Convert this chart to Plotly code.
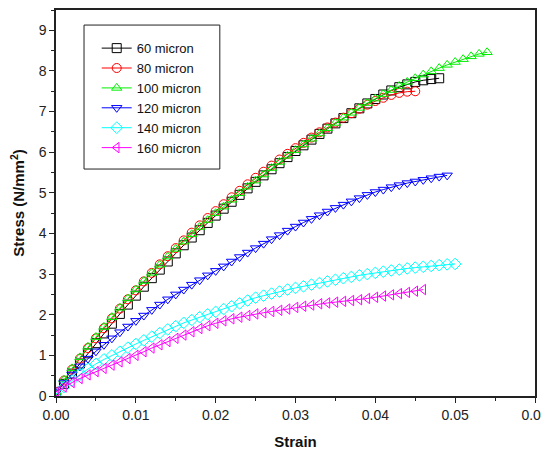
import plotly.graph_objects as go

strain = [0.000, 0.001, 0.002, 0.003, 0.004, 0.005, 0.006, 0.007, 0.008, 0.009,
          0.010, 0.011, 0.012, 0.013, 0.014, 0.015, 0.016, 0.017, 0.018, 0.019,
          0.020, 0.021, 0.022, 0.023, 0.024, 0.025, 0.026, 0.027, 0.028, 0.029,
          0.030, 0.031, 0.032, 0.033, 0.034, 0.035, 0.036, 0.037, 0.038, 0.039,
          0.040, 0.041, 0.042, 0.043, 0.044, 0.045, 0.046, 0.047, 0.048, 0.049,
          0.050, 0.051, 0.052, 0.053, 0.054]

stress_60 = [0.10, 0.30, 0.55, 0.80, 1.05, 1.30, 1.54, 1.78, 2.02, 2.25,
             2.47, 2.69, 2.90, 3.11, 3.31, 3.51, 3.71, 3.90, 4.08, 4.26,
             4.44, 4.61, 4.78, 4.95, 5.11, 5.27, 5.43, 5.58, 5.73, 5.88,
             6.03, 6.17, 6.31, 6.45, 6.58, 6.71, 6.84, 6.96, 7.08, 7.20,
             7.31, 7.42, 7.52, 7.60, 7.67, 7.73, 7.77, 7.80, 7.82]

stress_80 = [0.10, 0.38, 0.65, 0.92, 1.18, 1.42, 1.67, 1.91, 2.15, 2.38,
             2.60, 2.82, 3.03, 3.24, 3.44, 3.64, 3.83, 4.02, 4.20, 4.38,
             4.55, 4.72, 4.89, 5.05, 5.21, 5.37, 5.52, 5.67, 5.82, 5.96,
             6.10, 6.23, 6.36, 6.49, 6.61, 6.73, 6.85, 6.96, 7.07, 7.17,
             7.26, 7.34, 7.41, 7.46, 7.49, 7.50]

stress_100 = [0.10, 0.40, 0.68, 0.95, 1.21, 1.45, 1.70, 1.94, 2.17, 2.40,
              2.62, 2.83, 3.03, 3.23, 3.43, 3.62, 3.80, 3.98, 4.16, 4.33,
              4.50, 4.66, 4.83, 4.99, 5.15, 5.30, 5.45, 5.61, 5.76, 5.91,
              6.05, 6.19, 6.33, 6.46, 6.59, 6.72, 6.85, 6.97, 7.09, 7.21,
              7.32, 7.43, 7.53, 7.63, 7.73, 7.82, 7.91, 7.99, 8.07, 8.15,
              8.22, 8.29, 8.36, 8.42, 8.46]

stress_120 = [0.10, 0.32, 0.53, 0.73, 0.92, 1.10, 1.26, 1.42, 1.57, 1.71,
              1.85, 1.98, 2.12, 2.25, 2.38, 2.50, 2.62, 2.74, 2.85, 2.97,
              3.08, 3.19, 3.31, 3.42, 3.53, 3.64, 3.75, 3.86, 3.96, 4.07,
              4.17, 4.27, 4.36, 4.45, 4.54, 4.63, 4.71, 4.79, 4.87, 4.95,
              5.02, 5.08, 5.14, 5.19, 5.24, 5.28, 5.32, 5.36, 5.40, 5.43]

stress_140 = [0.05, 0.22, 0.38, 0.53, 0.67, 0.79, 0.90, 1.00, 1.09, 1.19,
              1.28, 1.37, 1.46, 1.55, 1.64, 1.72, 1.80, 1.87, 1.94, 2.01,
              2.07, 2.14, 2.21, 2.28, 2.35, 2.42, 2.47, 2.52, 2.57, 2.62,
              2.66, 2.70, 2.74, 2.78, 2.82, 2.86, 2.90, 2.93, 2.97, 3.00,
              3.03, 3.06, 3.09, 3.11, 3.14, 3.16, 3.18, 3.20, 3.22, 3.24,
              3.25]

stress_160 = [0.10, 0.22, 0.33, 0.43, 0.52, 0.60, 0.68, 0.76, 0.84, 0.92,
              1.00, 1.09, 1.18, 1.26, 1.34, 1.42, 1.50, 1.58, 1.66, 1.73,
              1.79, 1.85, 1.90, 1.94, 1.98, 2.02, 2.05, 2.08, 2.11, 2.14,
              2.18, 2.21, 2.24, 2.27, 2.29, 2.31, 2.33, 2.35, 2.37, 2.40,
              2.43, 2.46, 2.49, 2.52, 2.55, 2.58, 2.62]

series_names = ["60 micron", "80 micron", "100 micron", "120 micron", "140 micron", "160 micron"]
series_values = [stress_60, stress_80, stress_100, stress_120, stress_140, stress_160]
series_colors = ["#000000", "#ff0000", "#00ee00", "#0000ff", "#00ffff", "#ff00ff"]
series_symbols = ["square-open", "circle-open", "triangle-up-open",
                  "triangle-down-open", "diamond-open", "triangle-left-open"]

fig = go.Figure()
for name, vals, col, sym in zip(series_names, series_values, series_colors, series_symbols):
    fig.add_trace(go.Scatter(
        x=strain[:len(vals)], y=vals, name=name, mode="lines+markers",
        line=dict(color=col, width=1),
        marker=dict(symbol=sym, size=9, color=col, line=dict(color=col, width=1)),
    ))

font = "Liberation Sans, Arial, sans-serif"
# the page body adds an 8px margin, so the figure is 8px smaller and offset
fig.update_layout(
    width=541, height=446,
    margin=dict(l=48, r=14, t=2, b=58),
    paper_bgcolor="white", plot_bgcolor="white",
    font=dict(family=font, size=14, color="#222222"),
    showlegend=True,
    legend=dict(x=0.085, y=0.94, xanchor="left", yanchor="top",
                bgcolor="rgba(0,0,0,0)", borderwidth=0,
                font=dict(family=font, size=13, color="#111111"),
                tracegroupgap=0),
    shapes=[dict(type="rect", xref="paper", yref="paper",
                 x0=0.0585, x1=0.342, y0=0.588, y1=0.961,
                 line=dict(color="#222222", width=1), fillcolor="rgba(0,0,0,0)",
                 layer="above")],
    xaxis=dict(range=[0, 0.06], dtick=0.01, tickformat=".2f", automargin=False,
               showgrid=False, zeroline=False, ticklabeloverflow="allow",
               showline=True, linecolor="#222222", linewidth=1.5, mirror=True,
               ticks="outside", ticklen=5, tickwidth=1, tickcolor="#222222",
               tickfont=dict(family=font, size=14, color="#222222"),
               minor=dict(dtick=0.005, ticks="outside", ticklen=3, tickcolor="#222222"),
               title=dict(text="<b>Strain</b>", font=dict(family=font, size=15, color="#111111"),
                          standoff=15)),
    yaxis=dict(range=[0, 9.5], dtick=1, automargin=False,
               showgrid=False, zeroline=False,
               showline=True, linecolor="#222222", linewidth=1.5, mirror=True,
               ticks="outside", ticklen=5, tickwidth=1, tickcolor="#222222",
               tickfont=dict(family=font, size=14, color="#222222"),
               minor=dict(dtick=0.5, ticks="outside", ticklen=3, tickcolor="#222222"),
               title=dict(text="<b>Stress (N/mm<sup>2</sup>)</b>",
                          font=dict(family=font, size=15, color="#111111"),
                          standoff=16)),
    yaxis2=dict(range=[0, 9.5], dtick=0.5, overlaying="y", side="right", anchor="x",
                automargin=False,
                showgrid=False, zeroline=False, showticklabels=False,
                showline=False, ticks="inside", ticklen=4, tickwidth=1, tickcolor="#222222"),
)

fig.write_html("out.html")
